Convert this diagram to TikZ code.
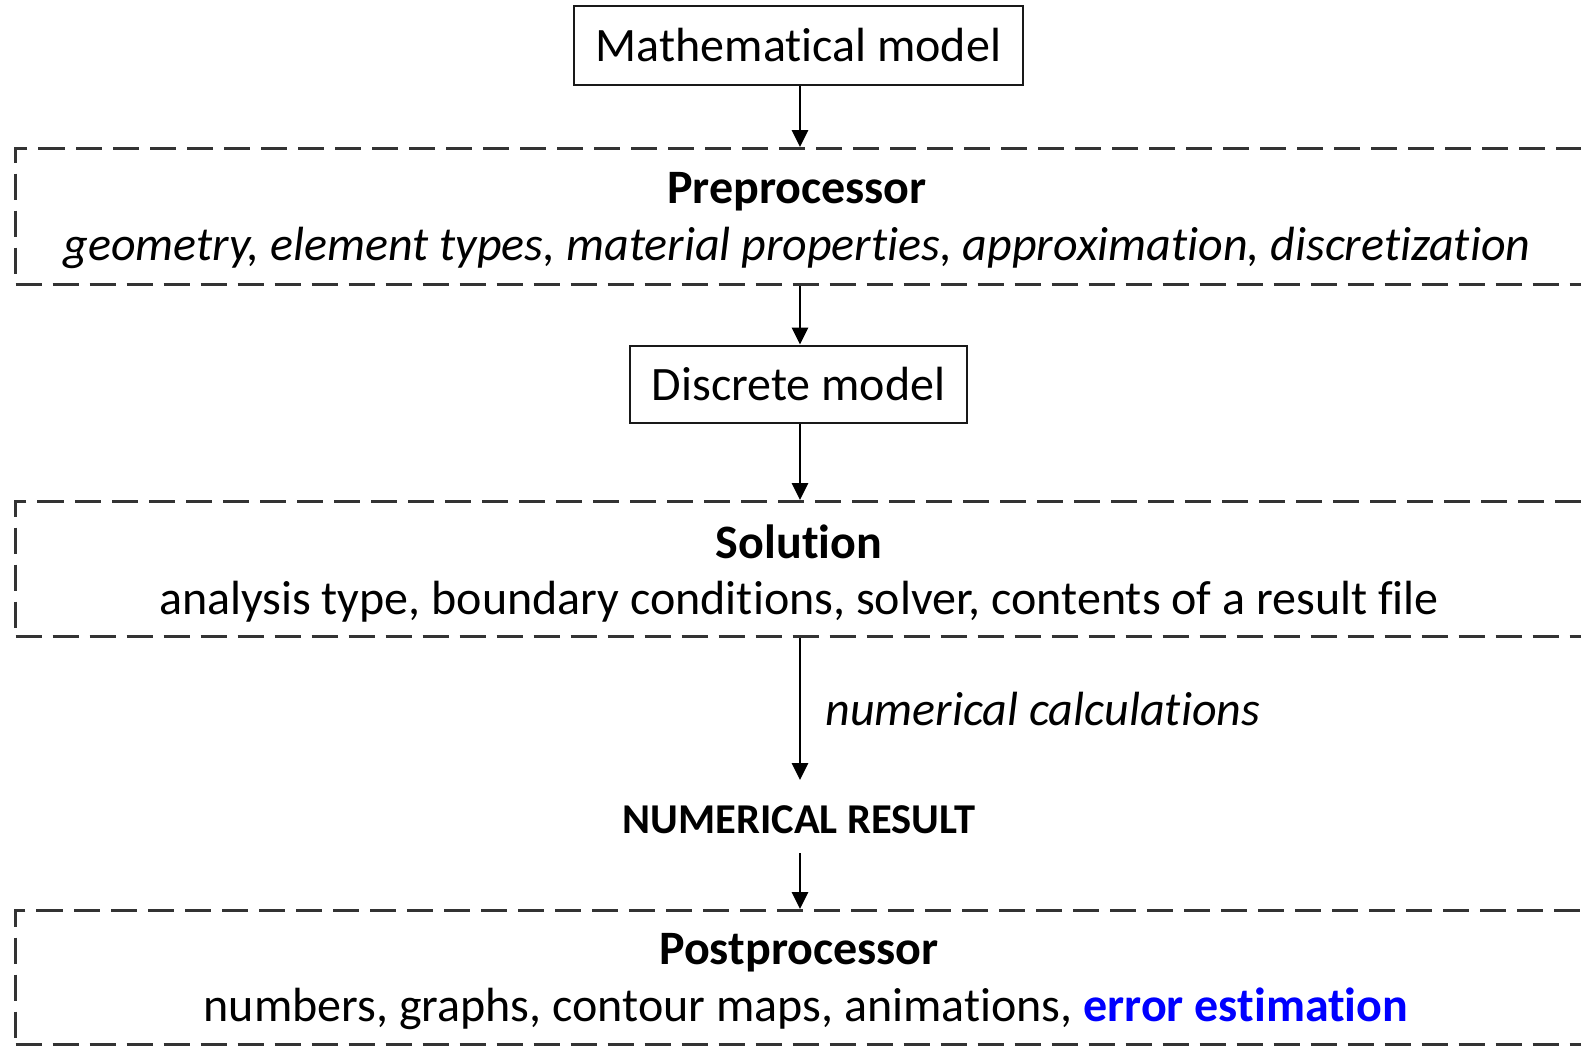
\documentclass[tikz,border=0pt]{standalone}
\usepackage{fontspec}
\setmainfont{Carlito}[Ligatures={NoCommon}]
\usetikzlibrary{arrows.meta}
\definecolor{dashgray}{HTML}{333333}
\definecolor{errblue}{HTML}{0000FF}
\begin{document}
\begin{tikzpicture}[x=1pt,y=-1pt,
  every node/.style={font=\fontsize{48}{57}\selectfont, inner sep=0pt},
  solidbox/.style={draw=black!90, line width=2.8pt, inner sep=0pt},
  dbox/.style={draw=dashgray, line width=3pt, dash pattern=on 26pt off 11pt, anchor=north west, minimum width=1640pt, inner sep=0pt},
  conn/.style={line width=2.8pt, -{Triangle[length=17pt,width=16pt]}},
  lbl/.style={anchor=center}
]
\path[use as bounding box, clip] (0,0) rectangle (1581,1045);
% solid boxes
\node[solidbox, minimum width=449pt, minimum height=79pt] (mm) at (798.5,45.5) {Mathematical model};
\node[solidbox, minimum width=337pt, minimum height=77pt] (dm) at (798.5,384.5) {Discrete model};
% dashed boxes
\node[dbox, minimum height=136pt] (pre) at (14,147) {};
\node[dbox, minimum height=135pt] (sol) at (14,500) {};
\node[dbox, minimum height=134pt] (post) at (14,909) {};
% texts
\node[lbl] (pret) at (797,192) {\bfseries Preprocessor};
\node[lbl] (prel) at (797,248) {\itshape geometry, element types, material properties, approximation, discretization};
\node[lbl] (solt) at (799,542) {\bfseries Solution};
\node[lbl] (soll) at (799,602) {analysis type, boundary conditions, solver, contents of a result file};
\node[lbl] (nr) at (799,820) {\fontsize{42.5}{50}\selectfont\bfseries NUMERICAL RESULT};
\node[lbl] (postt) at (799,953) {\bfseries Postprocessor};
\node[lbl] (postl) at (806,1009) {numbers, graphs, contour maps, animations, \textcolor{errblue}{\bfseries error estimation}};
% connectors
\coordinate (a1) at (800,85);
\draw[conn] (mm.south -| a1) -- (a1 |- pre.north);
\draw[conn] (a1 |- pre.south) -- (a1 |- dm.north);
\draw[conn] (a1 |- dm.south) -- (a1 |- sol.north);
\coordinate (nrtop) at (800,780);
\coordinate (nrbot) at (800,853);
\draw[conn] (a1 |- sol.south) -- (nrtop) node[midway, right=24pt, anchor=west, font=\fontsize{48}{57}\selectfont\itshape] (calc) {numerical calculations};
\draw[conn] (nrbot) -- (a1 |- post.north);
\end{tikzpicture}
\end{document}
